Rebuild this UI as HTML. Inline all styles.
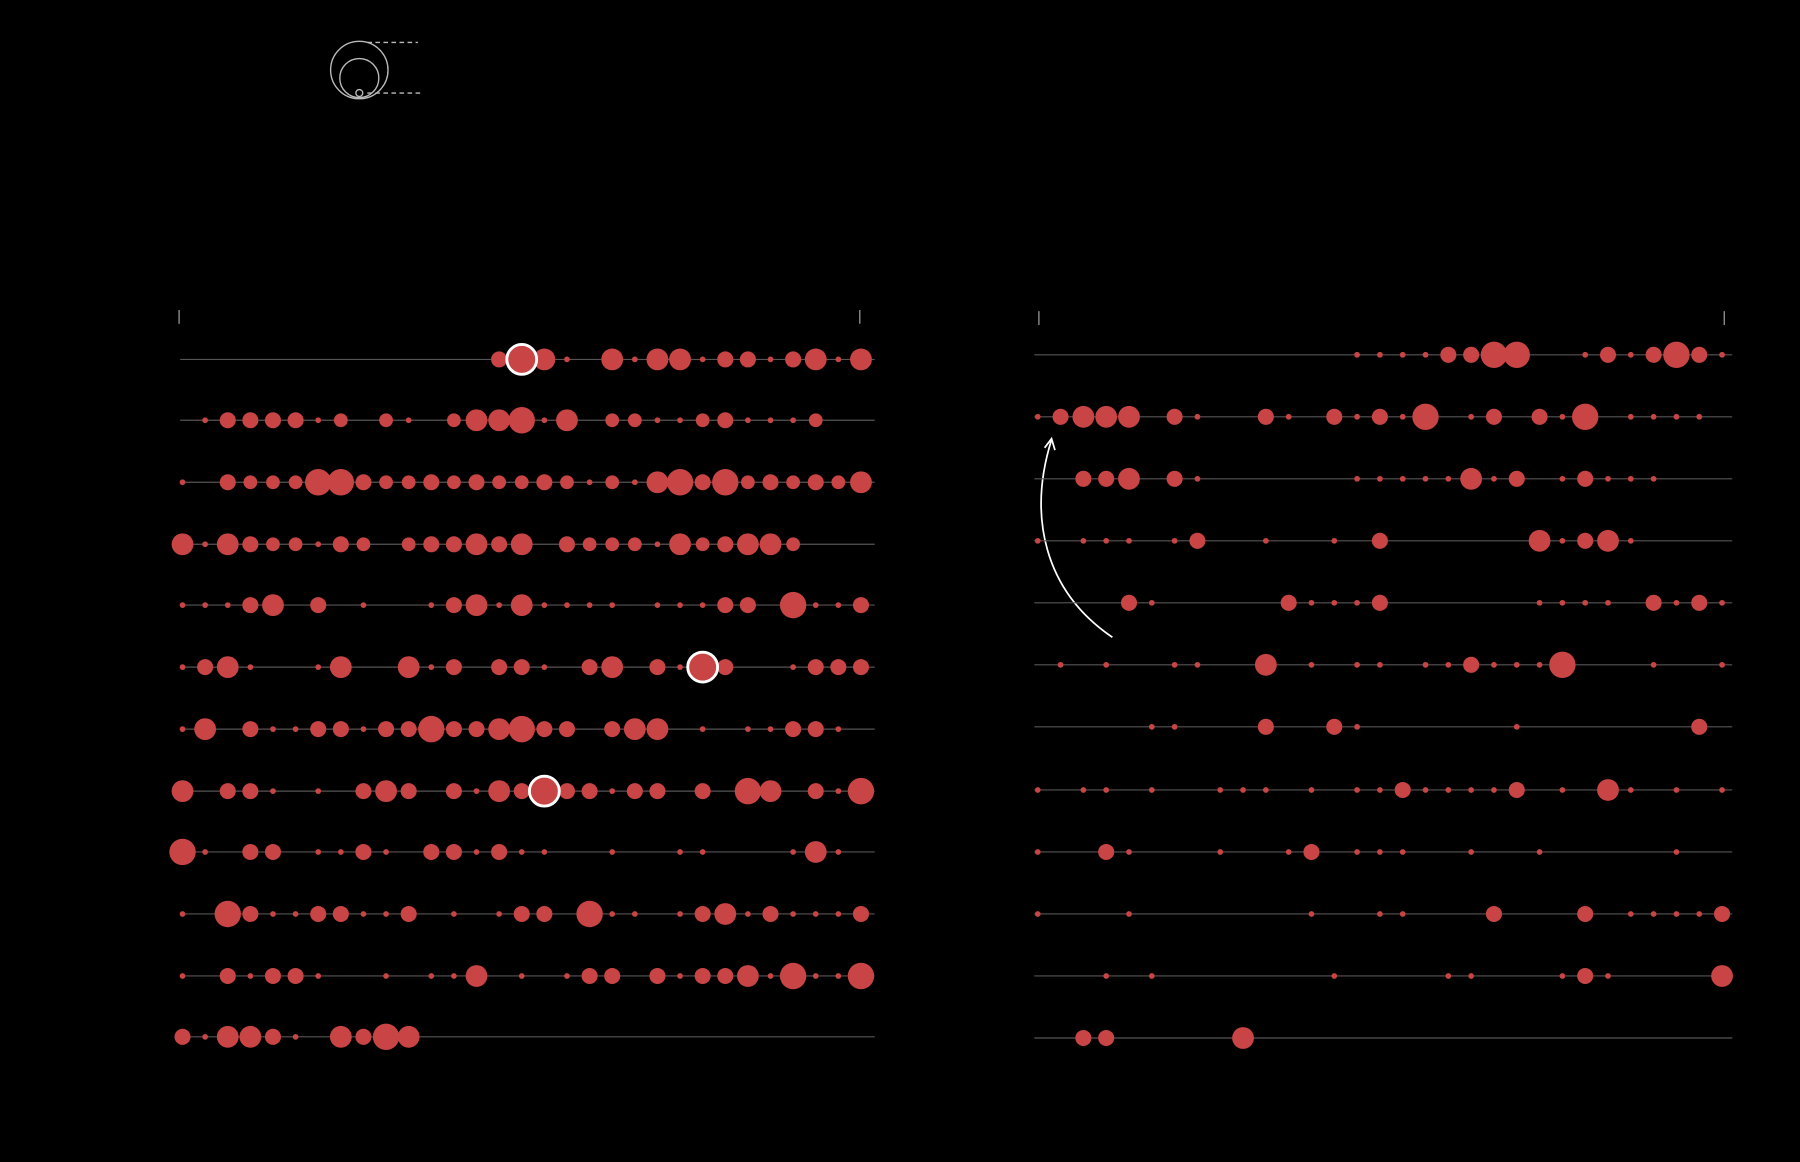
<!DOCTYPE html>
<html><head><meta charset="utf-8"><style>
html,body{margin:0;padding:0;background:#000;width:1800px;height:1162px;overflow:hidden}
svg{display:block}
</style></head><body>
<svg id="s" width="1800" height="1162" viewBox="0 0 1568 1012" preserveAspectRatio="none" xmlns="http://www.w3.org/2000/svg">
<rect width="1568" height="1012" fill="#000"/>
<g fill="none" stroke="#bbb" stroke-width="1.2">
<circle cx="313" cy="61" r="25"/>
<circle cx="313" cy="68" r="17"/>
<circle cx="313" cy="81" r="3"/>
<line x1="320" y1="37" x2="364" y2="37" stroke-dasharray="4,3"/>
<line x1="320" y1="81" x2="366" y2="81" stroke-dasharray="4,3"/>
</g>
<g stroke="#aaa" stroke-width="1">
<line x1="156" y1="270" x2="156" y2="282"/>
<line x1="749" y1="270" x2="749" y2="282"/>
<line x1="905" y1="271" x2="905" y2="283"/>
<line x1="1502" y1="271" x2="1502" y2="283"/>
</g>
<path d="M969,555 C910,515 895,450 916,383" fill="none" stroke="#fff" stroke-width="1.5"/>
<path d="M910,390 L916,382 L919,392" fill="none" stroke="#fff" stroke-width="1.5"/>
<g id="g"></g>
</svg>
<script>
var R={a:2.5,b:6,c:7,d:9.5,e:11.5};
var L=[
"14c 15E 16d 17a 19d 20a 21d 22d 23a 24c 25c 26a 27c 28d 29a 30d",
"1a 2c 3c 4c 5c 6a 7b 9b 10a 12b 13d 14d 15e 16a 17d 19b 20b 21a 22a 23b 24c 25a 26a 27a 28b",
"0a 2c 3b 4b 5b 6e 7e 8c 9b 10b 11c 12b 13c 14b 15b 16c 17b 18a 19b 20a 21d 22e 23c 24e 25b 26c 27b 28c 29b 30d",
"0d 1a 2d 3c 4b 5b 6a 7c 8b 10b 11c 12c 13d 14c 15d 17c 18b 19b 20b 21a 22d 23b 24c 25d 26d 27b",
"0a 1a 2a 3c 4d 6c 8a 11a 12c 13d 14a 15d 16a 17a 18a 19a 21a 22a 23a 24c 25c 27e 28a 29a 30c",
"0a 1c 2d 3a 6a 7d 10d 11a 12c 14c 15c 16a 18c 19d 21c 22a 23E 24c 27a 28c 29c 30c",
"0a 1d 3c 4a 5a 6c 7c 8a 9c 10c 11e 12c 13c 14d 15e 16c 17c 19c 20d 21d 23a 25a 26a 27c 28c 29a",
"0d 2c 3c 4a 6a 8c 9d 10c 12c 13a 14d 15c 16E 17c 18c 19a 20c 21c 23c 25e 26d 28c 29a 30e",
"0e 1a 3c 4c 6a 7a 8c 9a 11c 12c 13a 14c 15a 16a 19a 22a 23a 27a 28d 29a",
"0a 2e 3c 4a 5a 6c 7c 8a 9a 10c 12a 14a 15c 16c 18e 19a 20a 22a 23c 24d 25a 26c 27a 28a 29a 30c",
"0a 2c 3a 4c 5c 6a 9a 11a 12a 13d 15a 17a 18c 19c 21c 22a 23c 24c 25d 26a 27e 28a 29a 30e",
"0c 1a 2d 3d 4c 5a 7d 8c 9e 10d"];
var RR=[
"14a 15a 16a 17a 18c 19c 20e 21e 24a 25c 26a 27c 28e 29c 30a",
"0a 1c 2d 3d 4d 6c 7a 10c 11a 13c 14a 15c 16a 17e 19a 20c 22c 23a 24e 26a 27a 28a 29a",
"2c 3c 4d 6c 7a 14a 15a 16a 17a 18a 19d 20a 21c 23a 24c 25a 26a 27a",
"0a 2a 3a 4a 6a 7c 10a 13a 15c 22d 23a 24c 25d 26a",
"4c 5a 11c 12a 13a 14a 15c 22a 23a 24a 25a 27c 28a 29c 30a",
"1a 3a 6a 7a 10d 12a 14a 15a 17a 18a 19c 20a 21a 22a 23e 27a 30a",
"5a 6a 10c 13c 14a 21a 29c",
"0a 2a 3a 5a 8a 9a 10a 12a 14a 15a 16c 17a 18a 19a 20a 21c 23a 25d 26a 28a 30a",
"0a 3c 4a 8a 11a 12c 14a 15a 16a 19a 22a 28a",
"0a 4a 12a 15a 16a 20c 24c 26a 27a 28a 29a 30c",
"3a 5a 13a 18a 19a 23a 24c 25a 30d",
"2c 3c 9d"];
var ly=[313,366,420,474,527,581,635,689,742,796,850,903];
var ry=[309,363,417,471,525,579,633,688,742,796,850,904];
var h='';
function panel(rows,ys,x0,st,l1,l2){
 rows.forEach(function(r,k){
  var y=ys[k];
  h+='<line x1="'+l1+'" y1="'+y+'" x2="'+l2+'" y2="'+y+'" stroke="#555" stroke-width="1"/>';
  var hi='';
  r.split(' ').forEach(function(t){
   var i=parseInt(t),c=t.slice(-1),x=x0+st*i;
   if(c==='E'){hi+='<circle cx="'+x+'" cy="'+y+'" r="13" fill="#c94444" stroke="#fff" stroke-width="2.5"/>';}
   else h+='<circle cx="'+x+'" cy="'+y+'" r="'+R[c]+'" fill="#c94444"/>';
  });
  h+=hi;
 });
}
panel(L,ly,159,19.7,157,762);
panel(RR,ry,904,19.87,901,1509);
document.getElementById('g').innerHTML=h;
</script>
</body></html>
